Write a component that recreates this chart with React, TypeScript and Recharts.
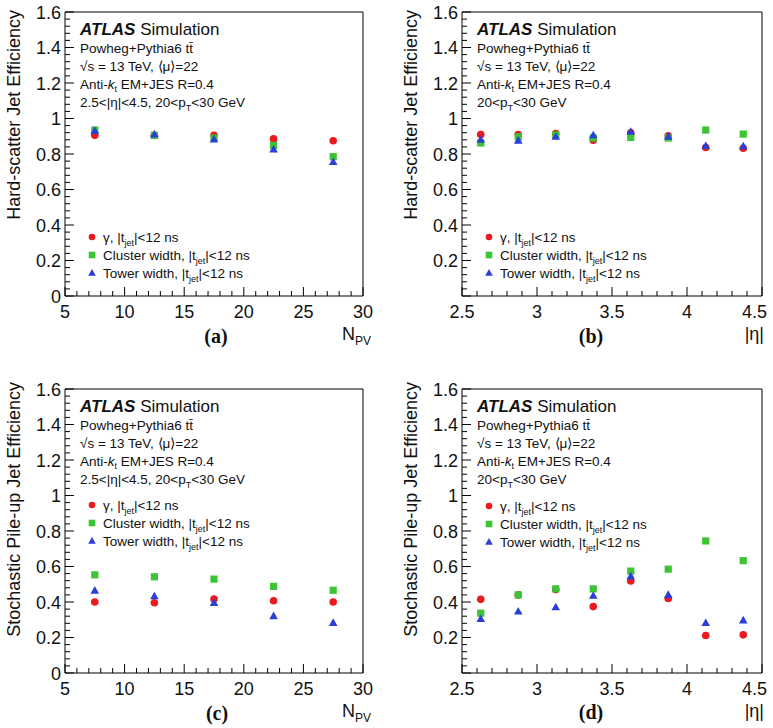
import React from 'react'
import { ScatterChart, Scatter, XAxis, YAxis } from 'recharts'

// bin centres
const npvBins = [7.5, 12.5, 17.5, 22.5, 27.5]
const etaBins = [2.625, 2.875, 3.125, 3.375, 3.625, 3.875, 4.125, 4.375]

// (a) hard-scatter efficiency vs N_PV
const hsNpvGamma = [0.905, 0.905, 0.905, 0.885, 0.875]
const hsNpvCluster = [0.935, 0.905, 0.89, 0.848, 0.785]
const hsNpvTower = [0.93, 0.91, 0.882, 0.825, 0.755]

// (b) hard-scatter efficiency vs |eta|
const hsEtaGamma = [0.91, 0.91, 0.915, 0.878, 0.92, 0.903, 0.837, 0.832]
const hsEtaCluster = [0.862, 0.897, 0.907, 0.89, 0.893, 0.89, 0.935, 0.912]
const hsEtaTower = [0.88, 0.875, 0.897, 0.905, 0.925, 0.897, 0.845, 0.843]

// (c) pile-up efficiency vs N_PV
const puNpvGamma = [0.4, 0.396, 0.417, 0.407, 0.4]
const puNpvCluster = [0.553, 0.542, 0.529, 0.488, 0.466]
const puNpvTower = [0.464, 0.432, 0.395, 0.32, 0.282]

// (d) pile-up efficiency vs |eta|
const puEtaGamma = [0.415, 0.44, 0.47, 0.374, 0.518, 0.42, 0.211, 0.215]
const puEtaCluster = [0.337, 0.44, 0.474, 0.474, 0.574, 0.585, 0.744, 0.633]
const puEtaTower = [0.304, 0.346, 0.37, 0.435, 0.544, 0.44, 0.281, 0.296]

const npvMajor = [5, 10, 15, 20, 25, 30]
const etaMajor = [2.5, 3, 3.5, 4, 4.5]
const effMajor = [0, 0.2, 0.4, 0.6, 0.8, 1, 1.2, 1.4, 1.6]

const RED = '#ea1a1f'
const GREEN = '#3cc435'
const BLUE = '#2a3ed8'
const FONT = '"Liberation Sans", Arial, sans-serif'

// split each major interval into n minor steps
function withMinor(majors: number[], n: number) {
  const out: number[] = []
  for (let i = 0; i < majors.length - 1; i++) {
    const step = (majors[i + 1] - majors[i]) / n
    for (let k = 0; k < n; k++) out.push(+(majors[i] + k * step).toFixed(6))
  }
  out.push(majors[majors.length - 1])
  return out
}

const isMajor = (v: number, majors: number[]) => majors.some((m) => Math.abs(m - v) < 1e-6)

const toPts = (xs: number[], ys: number[]) => xs.map((x, i) => ({ x, y: ys[i] }))

const Dot = (p: any) => <circle cx={p.cx} cy={p.cy} r={3.8} fill={RED} />
const Sq = (p: any) => <rect x={p.cx - 3.6} y={p.cy - 3.6} width={7.2} height={7.2} fill={GREEN} />
const Tri = (p: any) => (
  <polygon points={`${p.cx},${p.cy - 4.6} ${p.cx - 4.3},${p.cy + 3} ${p.cx + 4.3},${p.cy + 3}`} fill={BLUE} />
)

type TickSide = 'bottom' | 'top' | 'left' | 'right'

function makeTick(side: TickSide, majors: number[], labels: boolean, hideZero = false, maxX = 9999) {
  return (p: any) => {
    const v = p.payload.value
    const major = isMajor(v, majors)
    const len = major ? 9 : 5
    const { x, y } = p
    let line
    if (side === 'bottom') line = <line x1={x} x2={x} y1={y} y2={y - len} stroke="#000" />
    else if (side === 'top') line = <line x1={x} x2={x} y1={y} y2={y + len} stroke="#000" />
    else if (side === 'left') line = <line x1={x} x2={x + len} y1={y} y2={y} stroke="#000" />
    else line = <line x1={x} x2={x - len} y1={y} y2={y} stroke="#000" />
    let label = null
    if (labels && major && !(hideZero && v === 0)) {
      if (side === 'bottom') {
        // keep the last label inside the picture, as ROOT does
        const half = String(v).length * 5.2
        const cx = Math.min(x, maxX - half)
        label = (
          <text x={cx} y={y + 22} textAnchor="middle" fontSize={18} fontFamily={FONT} fill="#111">
            {String(v)}
          </text>
        )
      } else
        label = (
          <text x={x - 4} y={y + 6.5} textAnchor="end" fontSize={18} fontFamily={FONT} fill="#111">
            {String(v)}
          </text>
        )
    }
    return (
      <g key={`${side}-${v}`}>
        {line}
        {label}
      </g>
    )
  }
}

type Part = { t: string; sub?: boolean; it?: boolean }

// text pieces with subscripts, each piece returns to the baseline after a subscript
function rich(parts: Part[], subDy = 4) {
  let shift = 0
  return parts.map((pt, i) => {
    const target = pt.sub ? subDy : 0
    const dy = target - shift
    shift = target
    return (
      <tspan key={i} dy={dy || undefined} fontSize={pt.sub ? 9 : undefined} fontStyle={pt.it ? 'italic' : undefined}>
        {pt.t}
      </tspan>
    )
  })
}

function LegendRow({ x, y, kind, name }: { x: number; y: number; kind: number; name: string }) {
  const marker =
    kind === 0 ? (
      <circle cx={x} cy={y} r={3.3} fill={RED} />
    ) : kind === 1 ? (
      <rect x={x - 3.3} y={y - 3.3} width={6.6} height={6.6} fill={GREEN} />
    ) : (
      <polygon points={`${x},${y - 4} ${x - 3.8},${y + 2.8} ${x + 3.8},${y + 2.8}`} fill={BLUE} />
    )
  return (
    <g>
      {marker}
      <text x={x + 11} y={y + 5} fontSize={13.5} fontFamily={FONT} fill="#111">
        {rich([{ t: `${name}, |t` }, { t: 'jet', sub: true }, { t: '|<12 ns' }])}
      </text>
    </g>
  )
}

interface PanelProps {
  left: number
  top: number
  plotL: number
  plotT: number
  plotR: number
  plotB: number
  width: number
  xs: number[]
  xMajor: number[]
  gamma: number[]
  cluster: number[]
  tower: number[]
  yTitle: string
  yTitleEnd: number
  tag: string
  tagX: number
  tagY: number
  xTitle: 'npv' | 'eta'
  etaCut: boolean
  legendTop: number
  hideZero: boolean
}

function Panel(props: PanelProps) {
  const { width, plotL, plotT, plotR, plotB } = props
  const height = 364
  const xMinor = withMinor(props.xMajor, 5)
  const yMinor = withMinor(effMajor, 5)
  const xDom = [props.xMajor[0], props.xMajor[props.xMajor.length - 1]]
  const tx = plotL + 15
  const txt = { fontSize: 13.5, fontFamily: FONT, fill: '#111' }
  return (
    <div style={{ position: 'absolute', left: props.left, top: props.top, width, height }}>
      <ScatterChart
        width={width}
        height={height}
        margin={{ left: plotL - 1, top: plotT - 1, right: width - plotR - 1, bottom: height - plotB - 1 }}
      >
        <XAxis
          xAxisId="b"
          type="number"
          dataKey="x"
          domain={xDom}
          ticks={xMinor}
          interval={0}
          height={1}
          tickSize={0}
          tickMargin={0}
          tickLine={false}
          axisLine={{ stroke: '#000' }}
          tick={makeTick('bottom', props.xMajor, true, false, width - 3)}
        />
        <XAxis
          xAxisId="t"
          orientation="top"
          type="number"
          dataKey="x"
          domain={xDom}
          ticks={xMinor}
          interval={0}
          height={1}
          tickSize={0}
          tickMargin={0}
          tickLine={false}
          axisLine={{ stroke: '#000' }}
          tick={makeTick('top', props.xMajor, false)}
        />
        <YAxis
          yAxisId="l"
          type="number"
          dataKey="y"
          domain={[0, 1.6]}
          ticks={yMinor}
          interval={0}
          width={1}
          tickSize={0}
          tickMargin={0}
          tickLine={false}
          axisLine={{ stroke: '#000' }}
          tick={makeTick('left', effMajor, true, props.hideZero)}
        />
        <YAxis
          yAxisId="r"
          orientation="right"
          type="number"
          dataKey="y"
          domain={[0, 1.6]}
          ticks={yMinor}
          interval={0}
          width={1}
          tickSize={0}
          tickMargin={0}
          tickLine={false}
          axisLine={{ stroke: '#000' }}
          tick={makeTick('right', effMajor, false)}
        />
        <Scatter xAxisId="b" yAxisId="l" data={toPts(props.xs, props.gamma)} shape={Dot} isAnimationActive={false} />
        <Scatter xAxisId="b" yAxisId="l" data={toPts(props.xs, props.cluster)} shape={Sq} isAnimationActive={false} />
        <Scatter xAxisId="b" yAxisId="l" data={toPts(props.xs, props.tower)} shape={Tri} isAnimationActive={false} />
      </ScatterChart>
      <svg width={width} height={height} style={{ position: 'absolute', left: 0, top: 0, pointerEvents: 'none' }}>
        <text
          transform={`translate(${plotL - 45},${props.yTitleEnd}) rotate(-90)`}
          textAnchor="end"
          fontSize={18}
          fontFamily={FONT}
          fill="#111"
        >
          {props.yTitle}
        </text>
        <text
          x={props.tagX}
          y={props.tagY}
          textAnchor="middle"
          fontSize={20}
          fontWeight="bold"
          fontFamily='"Liberation Serif", "Times New Roman", serif'
          fill="#111"
        >
          {props.tag}
        </text>
        {props.xTitle === 'npv' ? (
          <text x={plotR + 8} y={plotB + 44} textAnchor="end" fontSize={18} fontFamily={FONT} fill="#111">
            <tspan>N</tspan>
            <tspan dy={5} fontSize={12}>
              PV
            </tspan>
          </text>
        ) : (
          <text x={plotR + 2} y={plotB + 44} textAnchor="end" fontSize={18} fontFamily={FONT} fill="#111">
            |η|
          </text>
        )}
        <text x={tx} y={plotT + 23} fontSize={17} fontFamily={FONT} fill="#111">
          <tspan fontWeight="bold" fontStyle="italic">
            ATLAS
          </tspan>
          <tspan> Simulation</tspan>
        </text>
        <text x={tx} y={plotT + 41} {...txt}>
          Powheg+Pythia6 tt̄
        </text>
        <text x={tx} y={plotT + 59} {...txt}>
          √s = 13 TeV, ⟨μ⟩=22
        </text>
        <text x={tx} y={plotT + 77} {...txt}>
          {rich([{ t: 'Anti-' }, { t: 'k', it: true }, { t: 't', sub: true }, { t: ' EM+JES R=0.4' }], 3)}
        </text>
        <text x={tx} y={plotT + 95} {...txt}>
          {rich([{ t: props.etaCut ? '2.5<|η|<4.5, 20<p' : '20<p' }, { t: 'T', sub: true }, { t: '<30 GeV' }])}
        </text>
        <LegendRow x={plotL + 27} y={plotT + props.legendTop} kind={0} name="γ" />
        <LegendRow x={plotL + 27} y={plotT + props.legendTop + 18} kind={1} name="Cluster width" />
        <LegendRow x={plotL + 27} y={plotT + props.legendTop + 36} kind={2} name="Tower width" />
      </svg>
    </div>
  )
}

export default function App() {
  return (
    <div style={{ position: 'absolute', left: 0, top: 0, width: 773, height: 728, background: '#fff' }}>
      <Panel
        left={0}
        top={0}
        width={386}
        plotL={65}
        plotT={12}
        plotR={363}
        plotB={296}
        xs={npvBins}
        xMajor={npvMajor}
        gamma={hsNpvGamma}
        cluster={hsNpvCluster}
        tower={hsNpvTower}
        yTitle="Hard-scatter Jet Efficiency"
        yTitleEnd={10}
        tag="(a)"
        tagX={216}
        tagY={343}
        xTitle="npv"
        etaCut
        legendTop={225}
        hideZero={false}
      />
      <Panel
        left={386}
        top={0}
        width={387}
        plotL={76}
        plotT={12}
        plotR={376}
        plotB={296}
        xs={etaBins}
        xMajor={etaMajor}
        gamma={hsEtaGamma}
        cluster={hsEtaCluster}
        tower={hsEtaTower}
        yTitle="Hard-scatter Jet Efficiency"
        yTitleEnd={10}
        tag="(b)"
        tagX={205}
        tagY={343}
        xTitle="eta"
        etaCut={false}
        legendTop={225}
        hideZero
      />
      <Panel
        left={0}
        top={364}
        width={386}
        plotL={65}
        plotT={25}
        plotR={363}
        plotB={309}
        xs={npvBins}
        xMajor={npvMajor}
        gamma={puNpvGamma}
        cluster={puNpvCluster}
        tower={puNpvTower}
        yTitle="Stochastic Pile-up Jet Efficiency"
        yTitleEnd={18}
        tag="(c)"
        tagX={217}
        tagY={356}
        xTitle="npv"
        etaCut
        legendTop={116}
        hideZero={false}
      />
      <Panel
        left={386}
        top={364}
        width={387}
        plotL={76}
        plotT={25}
        plotR={376}
        plotB={309}
        xs={etaBins}
        xMajor={etaMajor}
        gamma={puEtaGamma}
        cluster={puEtaCluster}
        tower={puEtaTower}
        yTitle="Stochastic Pile-up Jet Efficiency"
        yTitleEnd={18}
        tag="(d)"
        tagX={205}
        tagY={355}
        xTitle="eta"
        etaCut={false}
        legendTop={117}
        hideZero
      />
    </div>
  )
}
